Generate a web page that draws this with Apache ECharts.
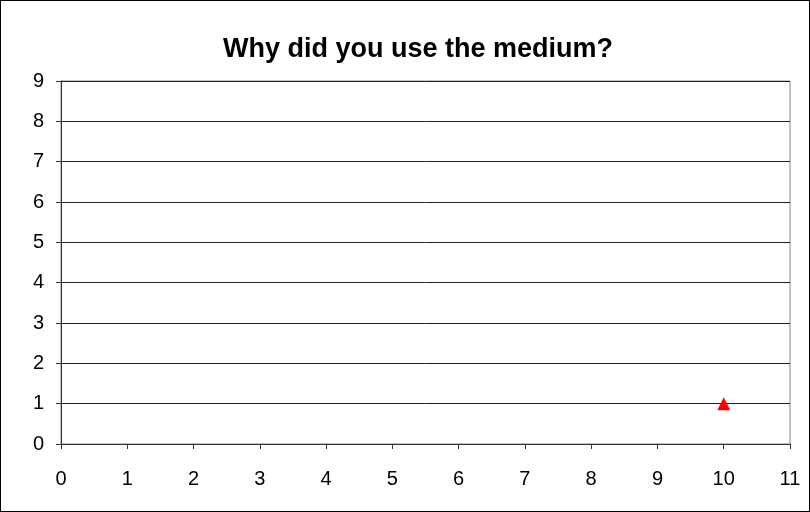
<!DOCTYPE html>
<html>
<head>
<meta charset="utf-8">
<script src="https://cdn.jsdelivr.net/npm/echarts@6/dist/echarts.min.js"></script>
<style>
  html, body { margin: 0; padding: 0; background: #fff; }
  #chart { width: 808px; height: 510px; border: 1px solid #000; }
</style>
</head>
<body>
<div id="chart"></div>
<script>
// 数据
const titleText = 'Why did you use the medium?'
const xRange = [0, 11]
const yRange = [0, 9]
const points = [[10, 1]]

const chart = echarts.init(document.getElementById('chart'), null, { renderer: 'canvas' })

const axisLabel = { color: '#000', fontSize: 20, fontFamily: 'Liberation Sans, Arial, sans-serif' }

chart.setOption({
  animation: false,
  title: {
    text: titleText,
    left: 217,
    top: 30,
    textStyle: { fontSize: 27, fontWeight: 'bold', color: '#000', fontFamily: 'Liberation Sans, Arial, sans-serif' },
  },
  grid: {
    left: 60, right: 19, top: 80, bottom: 67,
    show: true, borderColor: '#888', borderWidth: 1,
  },
  xAxis: {
    type: 'value', min: xRange[0], max: xRange[1], interval: 1,
    axisLine: { show: true, lineStyle: { color: '#333' } },
    axisTick: { show: true, length: 5, lineStyle: { color: '#333' } },
    axisLabel: { ...axisLabel, margin: 25 },
    splitLine: { show: false },
  },
  yAxis: {
    type: 'value', min: yRange[0], max: yRange[1], interval: 1,
    axisLine: { show: true, lineStyle: { color: '#333' } },
    axisTick: { show: true, length: 5, lineStyle: { color: '#333' } },
    axisLabel: { ...axisLabel, margin: 17 },
    splitLine: { show: true, lineStyle: { color: '#222', width: 1 } },
  },
  series: [{
    type: 'scatter',
    data: points,
    symbol: 'triangle',
    symbolSize: 13,
    itemStyle: { color: '#ff0000', opacity: 1 },
  }],
})
</script>
</body>
</html>
